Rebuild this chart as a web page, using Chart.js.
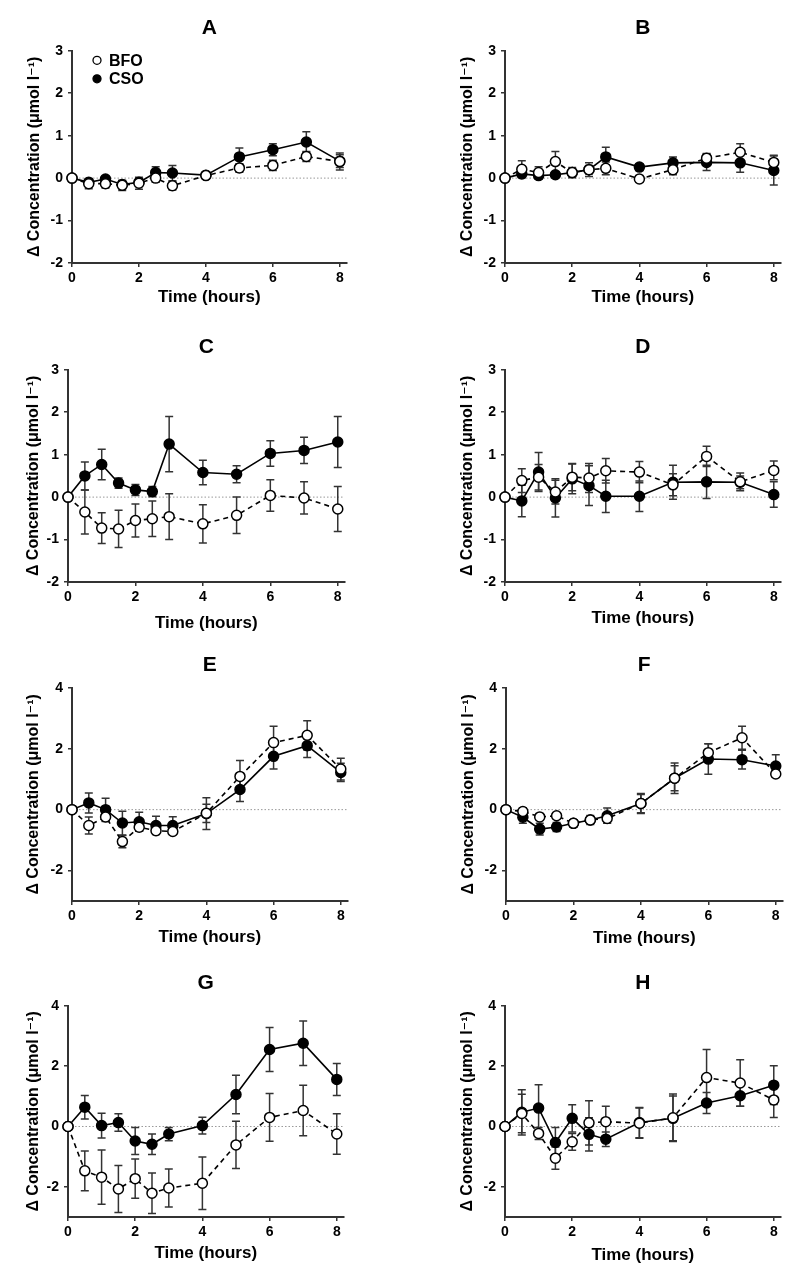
<!DOCTYPE html>
<html>
<head>
<meta charset="utf-8">
<script src="https://cdn.jsdelivr.net/npm/chart.js@4.4.1/dist/chart.umd.min.js"></script>
<style>
    body { margin: 0; background: #fff; }
    #page { position: relative; width: 800px; height: 1285px; overflow: hidden; }
    #page canvas { position: absolute; }
</style>
</head>
<body>
<div id="page"></div>
<script>
const TIMES = [0, 0.5, 1, 1.5, 2, 2.5, 3, 4, 5, 6, 7, 8];
const X_TICKS = [0, 2, 4, 6, 8];
const X_RANGE = [0, 8.2];
const Y_TICKS_TOP = [-2, -1, 0, 1, 2, 3];
const Y_RANGE_TOP = [-2, 3];
const Y_TICKS_BOTTOM = [-2, 0, 2, 4];
const Y_RANGE_BOTTOM = [-3, 4];
const SERIES = ['BFO', 'CSO'];

const A_BFO = [0, -0.13, -0.13, -0.17, -0.12, 0.0, -0.18, 0.06, 0.24, 0.30, 0.51, 0.39];
const A_BFO_ERR = [0, 0.12, 0.1, 0.12, 0.14, 0.1, 0.1, 0.05, 0.1, 0.12, 0.12, 0.2];
const A_CSO = [0, -0.1, -0.02, -0.15, -0.1, 0.13, 0.12, 0.07, 0.50, 0.67, 0.85, 0.4];
const A_CSO_ERR = [0, 0.08, 0.05, 0.08, 0.08, 0.14, 0.18, 0.05, 0.21, 0.14, 0.24, 0.15];

const B_BFO = [0, 0.21, 0.13, 0.39, 0.13, 0.2, 0.23, -0.02, 0.2, 0.47, 0.61, 0.37];
const B_BFO_ERR = [0, 0.2, 0.14, 0.24, 0.12, 0.16, 0.15, 0.08, 0.12, 0.11, 0.2, 0.17];
const B_CSO = [0, 0.1, 0.06, 0.08, 0.13, 0.2, 0.5, 0.26, 0.36, 0.37, 0.36, 0.18];
const B_CSO_ERR = [0, 0.08, 0.08, 0.06, 0.08, 0.1, 0.23, 0.08, 0.14, 0.19, 0.22, 0.34];

const C_BFO = [0, -0.35, -0.73, -0.75, -0.55, -0.51, -0.46, -0.63, -0.43, 0.04, -0.02, -0.28];
const C_BFO_ERR = [0, 0.52, 0.36, 0.44, 0.39, 0.42, 0.54, 0.45, 0.43, 0.37, 0.38, 0.53];
const C_CSO = [0, 0.50, 0.77, 0.33, 0.17, 0.13, 1.25, 0.58, 0.54, 1.03, 1.10, 1.30];
const C_CSO_ERR = [0, 0.33, 0.36, 0.12, 0.13, 0.12, 0.65, 0.29, 0.2, 0.3, 0.31, 0.6];

const D_BFO = [0, 0.39, 0.47, 0.12, 0.47, 0.45, 0.62, 0.59, 0.29, 0.96, 0.36, 0.63];
const D_BFO_ERR = [0, 0.28, 0.3, 0.28, 0.32, 0.34, 0.29, 0.25, 0.26, 0.24, 0.21, 0.22];
const D_CSO = [0, -0.09, 0.59, -0.02, 0.43, 0.27, 0.02, 0.02, 0.35, 0.36, 0.35, 0.06];
const D_CSO_ERR = [0, 0.37, 0.46, 0.45, 0.35, 0.47, 0.38, 0.36, 0.4, 0.39, 0.15, 0.3];

const E_BFO = [0, -0.52, -0.24, -1.05, -0.58, -0.69, -0.72, -0.12, 1.09, 2.2, 2.44, 1.33];
const E_BFO_ERR = [0, 0.28, 0.15, 0.2, 0.12, 0.1, 0.06, 0.3, 0.52, 0.54, 0.48, 0.36];
const E_CSO = [0, 0.22, 0, -0.44, -0.4, -0.52, -0.52, -0.13, 0.66, 1.75, 2.1, 1.22];
const E_CSO_ERR = [0, 0.33, 0.37, 0.39, 0.31, 0.3, 0.29, 0.52, 0.39, 0.42, 0.39, 0.3];

const F_BFO = [0, -0.06, -0.24, -0.2, -0.45, -0.34, -0.29, 0.2, 1.03, 1.87, 2.36, 1.17];
const F_BFO_ERR = [0, 0.12, 0.1, 0.1, 0.1, 0.15, 0.15, 0.33, 0.5, 0.29, 0.38, 0.1];
const F_CSO = [0, -0.25, -0.64, -0.57, -0.45, -0.34, -0.2, 0.2, 1.03, 1.66, 1.64, 1.43];
const F_CSO_ERR = [0, 0.2, 0.19, 0.15, 0.1, 0.1, 0.25, 0.3, 0.41, 0.5, 0.31, 0.37];

const G_BFO = [0, -1.47, -1.68, -2.07, -1.73, -2.21, -2.04, -1.88, -0.61, 0.3, 0.53, -0.25];
const G_BFO_ERR = [0, 0.66, 0.9, 0.78, 0.65, 0.67, 0.63, 0.87, 0.78, 0.79, 0.84, 0.67];
const G_CSO = [0, 0.64, 0.03, 0.13, -0.48, -0.59, -0.25, 0.03, 1.06, 2.55, 2.76, 1.56];
const G_CSO_ERR = [0, 0.39, 0.41, 0.29, 0.45, 0.34, 0.22, 0.28, 0.64, 0.73, 0.74, 0.53];

const H_BFO = [0, 0.43, -0.23, -1.05, -0.51, 0.12, 0.16, 0.11, 0.29, 1.62, 1.44, 0.88];
const H_BFO_ERR = [0, 0.64, 0.2, 0.37, 0.28, 0.73, 0.51, 0.5, 0.79, 0.93, 0.77, 0.58];
const H_CSO = [0, 0.47, 0.61, -0.53, 0.27, -0.26, -0.42, 0.13, 0.27, 0.78, 1.02, 1.37];
const H_CSO_ERR = [0, 0.75, 0.77, 0.5, 0.45, 0.55, 0.24, 0.5, 0.74, 0.35, 0.35, 0.64];

const FONT = "'Liberation Sans', Arial, 'DejaVu Sans', sans-serif";
const Y_W = 60;   // fixed width of the y axis box
const X_H = 55;   // fixed height of the x axis box
const PAD_R = 6;

// dotted zero line across the plot
const zeroLine = {
    id: 'zeroLine',
    beforeDatasetsDraw(chart) {
        const {ctx, chartArea} = chart;
        const y = chart.scales.y.getPixelForValue(0);
        ctx.save();
        ctx.strokeStyle = '#999';
        ctx.lineWidth = 1;
        ctx.setLineDash([1.5, 2]);
        ctx.beginPath();
        ctx.moveTo(chartArea.left, y);
        ctx.lineTo(chartArea.right, y);
        ctx.stroke();
        ctx.restore();
    }
};

// SEM bars, drawn under the markers
const errorBars = {
    id: 'errorBars',
    beforeDatasetsDraw(chart) {
        const {ctx} = chart;
        const yScale = chart.scales.y;
        ctx.save();
        ctx.strokeStyle = '#333';
        ctx.lineWidth = 1.5;
        chart.data.datasets.forEach((ds, i) => {
            const meta = chart.getDatasetMeta(i);
            meta.data.forEach((pt, j) => {
                const err = ds.errors[j];
                if (!err) return;
                const v = ds.data[j].y;
                const top = yScale.getPixelForValue(v + err);
                const bot = yScale.getPixelForValue(v - err);
                ctx.beginPath();
                ctx.moveTo(pt.x, top);
                ctx.lineTo(pt.x, bot);
                ctx.moveTo(pt.x - 4, top);
                ctx.lineTo(pt.x + 4, top);
                ctx.moveTo(pt.x - 4, bot);
                ctx.lineTo(pt.x + 4, bot);
                ctx.stroke();
            });
        });
        ctx.restore();
    }
};

// small legend inside the plot area (panel A only)
const insetLegend = {
    id: 'insetLegend',
    afterDatasetsDraw(chart, args, opts) {
        if (!opts.show) return;
        const {ctx, chartArea} = chart;
        ctx.save();
        ctx.font = 'bold 16px ' + FONT;
        ctx.textBaseline = 'middle';
        ctx.fillStyle = '#000';
        chart.data.datasets.forEach((ds, i) => {
            const cx = chartArea.left + opts.x;
            const cy = chartArea.top + opts.y + i * opts.step;
            ctx.beginPath();
            ctx.arc(cx, cy, 4, 0, Math.PI * 2);
            ctx.fillStyle = ds.pointBackgroundColor;
            ctx.fill();
            ctx.lineWidth = 1.3;
            ctx.strokeStyle = ds.pointBorderColor;
            ctx.stroke();
            ctx.fillStyle = '#000';
            ctx.fillText(ds.label, cx + 12, cy + 1);
        });
        ctx.restore();
    }
};

function createPanel(letter, box, bfo, bfoErr, cso, csoErr, yRange, yTicks, showLegend) {
    const canvas = document.createElement('canvas');
    const left = box.L - Y_W;
    const top = Math.round(box.T - 22.5 - 13.2);
    const width = Y_W + (box.R - box.L) + PAD_R;
    const height = box.B + X_H - top;
    canvas.width = width;
    canvas.height = height;
    canvas.style.left = left + 'px';
    canvas.style.top = top + 'px';
    document.getElementById('page').appendChild(canvas);

    const toPoints = vals => TIMES.map((t, i) => ({x: t, y: vals[i]}));

    const config = {
        type: 'line',
        data: {
            datasets: [{
                label: SERIES[0],
                data: toPoints(bfo),
                errors: bfoErr,
                borderColor: '#000',
                borderWidth: 1.6,
                borderDash: [5, 4],
                pointRadius: 5,
                pointBorderWidth: 1.5,
                pointBackgroundColor: '#fff',
                pointBorderColor: '#000',
                clip: false
            }, {
                label: SERIES[1],
                data: toPoints(cso),
                errors: csoErr,
                borderColor: '#000',
                borderWidth: 1.6,
                pointRadius: 5,
                pointBorderWidth: 1.5,
                pointBackgroundColor: '#000',
                pointBorderColor: '#000',
                clip: false
            }]
        },
        options: {
            responsive: false,
            animation: false,
            events: [],
            layout: { padding: { left: 0, top: 0, right: PAD_R, bottom: 0 } },
            scales: {
                x: {
                    type: 'linear',
                    min: X_RANGE[0],
                    max: X_RANGE[1],
                    afterBuildTicks: s => { s.ticks = X_TICKS.map(v => ({value: v})); },
                    afterFit: s => { s.height = X_H; },
                    grid: { display: true, drawOnChartArea: false, drawTicks: true, tickLength: 4, tickColor: '#333', lineWidth: 1.5 },
                    border: { display: true, color: '#333', width: 2 },
                    ticks: { color: '#000', padding: 3, font: { size: 14, weight: 'bold' } },
                    title: {
                        display: true,
                        text: 'Time (hours)',
                        color: '#000',
                        font: { size: 17, weight: 'bold' },
                        padding: { top: 0, bottom: X_H - 10.2 - box.xto }
                    }
                },
                y: {
                    min: yRange[0],
                    max: yRange[1],
                    afterBuildTicks: s => { s.ticks = yTicks.map(v => ({value: v})); },
                    afterFit: s => { s.width = Y_W; },
                    grid: { display: true, drawOnChartArea: false, drawTicks: true, tickLength: 4, tickColor: '#333', lineWidth: 1.5 },
                    border: { display: true, color: '#333', width: 2 },
                    ticks: { color: '#000', padding: 5, font: { size: 14, weight: 'bold' } },
                    title: {
                        display: true,
                        text: 'Δ Concentration (μmol l⁻¹)',
                        color: '#000',
                        font: { size: 16, weight: 'bold' },
                        padding: { top: Y_W - 9.6 - box.yto, bottom: 0 }
                    }
                }
            },
            plugins: {
                legend: { display: false },
                tooltip: { enabled: false },
                title: {
                    display: true,
                    text: letter,
                    fullSize: false,
                    color: '#000',
                    font: { size: 21, weight: 'bold' },
                    padding: { top: 0, bottom: box.T - top - 26.4 }
                },
                insetLegend: { show: showLegend, x: 25, y: 9.5, step: 18.5 }
            }
        },
        plugins: [zeroLine, errorBars, insetLegend]
    };

    return new Chart(canvas, config);
}

function init() {
    Chart.defaults.font.family = FONT;
    Chart.defaults.color = '#000';

    createPanel('A', {L: 72, T: 52, R: 347, B: 263, yto: 37, xto: 34}, A_BFO, A_BFO_ERR, A_CSO, A_CSO_ERR, Y_RANGE_TOP, Y_TICKS_TOP, true);
    createPanel('B', {L: 505, T: 52, R: 781, B: 263, yto: 37, xto: 34}, B_BFO, B_BFO_ERR, B_CSO, B_CSO_ERR, Y_RANGE_TOP, Y_TICKS_TOP, false);
    createPanel('C', {L: 68, T: 371, R: 345, B: 582, yto: 34, xto: 41}, C_BFO, C_BFO_ERR, C_CSO, C_CSO_ERR, Y_RANGE_TOP, Y_TICKS_TOP, false);
    createPanel('D', {L: 505, T: 371, R: 781, B: 582, yto: 37, xto: 36}, D_BFO, D_BFO_ERR, D_CSO, D_CSO_ERR, Y_RANGE_TOP, Y_TICKS_TOP, false);
    createPanel('E', {L: 72, T: 689, R: 348, B: 901, yto: 38, xto: 36}, E_BFO, E_BFO_ERR, E_CSO, E_CSO_ERR, Y_RANGE_BOTTOM, Y_TICKS_BOTTOM, false);
    createPanel('F', {L: 506, T: 689, R: 783, B: 901, yto: 37, xto: 37}, F_BFO, F_BFO_ERR, F_CSO, F_CSO_ERR, Y_RANGE_BOTTOM, Y_TICKS_BOTTOM, false);
    createPanel('G', {L: 68, T: 1007, R: 344, B: 1217, yto: 34, xto: 36}, G_BFO, G_BFO_ERR, G_CSO, G_CSO_ERR, Y_RANGE_BOTTOM, Y_TICKS_BOTTOM, false);
    createPanel('H', {L: 505, T: 1007, R: 781, B: 1217, yto: 37, xto: 38}, H_BFO, H_BFO_ERR, H_CSO, H_CSO_ERR, Y_RANGE_BOTTOM, Y_TICKS_BOTTOM, false);
}

init();
</script>
</body>
</html>
